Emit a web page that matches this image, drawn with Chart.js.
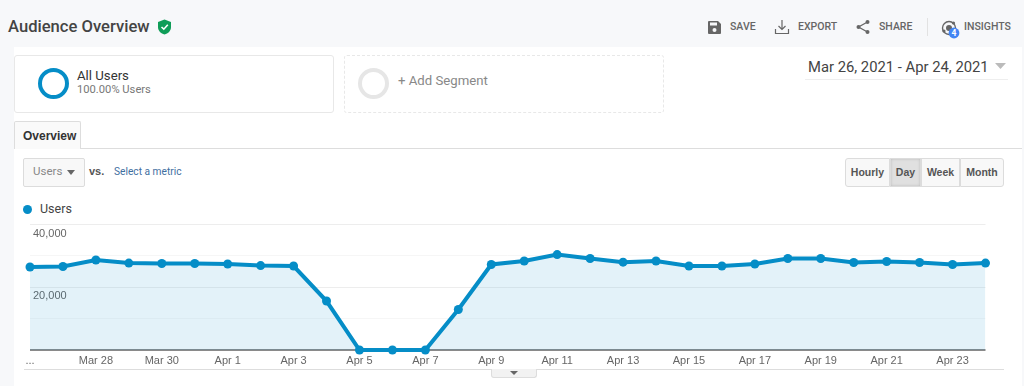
<!DOCTYPE html>
<html>
<head>
<meta charset="utf-8">
<title>Audience Overview</title>
<script src="https://cdn.jsdelivr.net/npm/chart.js@4"></script>
<style>
html, body { margin: 0; padding: 0; }
body { width: 1024px; height: 386px; overflow: hidden; position: relative; background: #f7f8fa; font-family: Roboto, sans-serif; }
#panel { position: absolute; left: 14px; top: 47px; width: 1008px; height: 339px; background: #fff; }
.t { position: absolute; white-space: nowrap; line-height: 1; }
.b { position: absolute; box-sizing: border-box; }
.tool { font-size: 10.5px; font-weight: 500; color: #666; top: 22px; }
svg { position: absolute; overflow: visible; }
.ring { position: absolute; box-sizing: border-box; width: 31px; height: 31px; border-radius: 50%; border: 4.5px solid; top: 68px; }
.btn { position: absolute; top: 158px; height: 29px; box-sizing: border-box; border: 1px solid #dcdcdc; margin-left: -1px; background: #f8f8f8; font: bold 10.5px/27px "Liberation Sans", Arial, sans-serif; color: #555; text-align: center; }
#chart { position: absolute; left: 0; top: 210px; }
</style>
</head>
<body>
<div id="panel"></div>

<div class="t" style="left:8px;top:19px;font-size:16.6px;font-weight:500;color:#444">Audience Overview</div>
<svg style="left:157px;top:19px" width="15" height="16" viewBox="0 0 15 16">
  <path d="M7.5 0.5 L14 3 V8 C14 12 11 14.5 7.5 15.5 C4 14.5 1 12 1 8 V3 Z" fill="#0f9d58"/>
  <path d="M4.5 8 L6.8 10.2 L10.8 5.8" fill="none" stroke="#fff" stroke-width="1.6"/>
</svg>

<svg style="left:708px;top:21px" width="13" height="13" viewBox="0 0 13 13">
  <path d="M0 1 Q0 0 1 0 H10 L13 3 V12 Q13 13 12 13 H1 Q0 13 0 12 Z" fill="#666"/>
  <rect x="2" y="1.5" width="7" height="3" fill="#f7f8fa"/>
  <circle cx="6.5" cy="9" r="2" fill="#f7f8fa"/>
</svg>
<div class="t tool" style="left:730px">SAVE</div>
<svg style="left:775px;top:20px" width="14" height="14" viewBox="0 0 14 14" fill="none" stroke="#666" stroke-width="1.2">
  <path d="M7 0 V9 M3.5 6 L7 9.5 L10.5 6 M0.5 9 V13.5 H13.5 V9"/>
</svg>
<div class="t tool" style="left:798px">EXPORT</div>
<svg style="left:856px;top:20px" width="14" height="14" viewBox="0 0 14 14">
  <path d="M11.5 2 L2.5 7 L11.5 12" fill="none" stroke="#666" stroke-width="1.3"/>
  <circle cx="11.5" cy="2" r="2" fill="#666"/><circle cx="2.5" cy="7" r="2" fill="#666"/><circle cx="11.5" cy="12" r="2" fill="#666"/>
</svg>
<div class="t tool" style="left:879px">SHARE</div>
<div class="b" style="left:927px;top:18px;width:1px;height:18px;background:#e2e2e2"></div>
<svg style="left:941px;top:20px" width="18" height="18" viewBox="0 0 18 18">
  <circle cx="8" cy="8" r="6.5" fill="none" stroke="#666" stroke-width="1.4"/>
  <circle cx="8" cy="8" r="3" fill="#666"/>
  <circle cx="3" cy="11" r="1.6" fill="#666"/><circle cx="12.5" cy="3" r="1.6" fill="#666"/>
  <circle cx="13" cy="13" r="5.4" fill="#4285f4"/>
</svg>
<div class="t" style="left:951.5px;top:29px;font-size:8.5px;font-weight:700;color:#fff">4</div>
<div class="t tool" style="left:964px">INSIGHTS</div>

<div class="b" style="left:14px;top:55px;width:320px;height:58px;border:1px solid #e8e8e8;border-radius:3px"></div>
<div class="ring" style="left:38px;border-color:#058dc7"></div>
<div class="t" style="left:77px;top:69px;font-size:13.2px;color:#333">All Users</div>
<div class="t" style="left:77px;top:84px;font-size:11.2px;color:#777">100.00% Users</div>

<div class="b" style="left:344px;top:55px;width:320px;height:58px;border:1px dashed #e8e8e8;border-radius:3px"></div>
<div class="ring" style="left:358px;border-color:#e6e6e6"></div>
<div class="t" style="left:398px;top:74px;font-size:13.2px;color:#888">+ Add Segment</div>

<div class="t" style="left:808px;top:60px;font-size:14.8px;color:#444">Mar 26, 2021 - Apr 24, 2021</div>
<svg style="left:995px;top:63px" width="11" height="6"><path d="M0 0 H11 L5.5 6 Z" fill="#bbb"/></svg>
<div class="b" style="left:805px;top:79px;width:203px;height:1px;background:#eee"></div>

<div class="b" style="left:14px;top:148px;width:1008px;height:1px;background:#ddd"></div>
<div class="b" style="left:14px;top:121px;width:67px;height:28px;border:1px solid #ddd;border-bottom:0;border-radius:2px 2px 0 0;background:#fafafa"></div>
<div class="t" style="left:23px;top:129px;font:bold 12px 'Liberation Sans',Arial,sans-serif;color:#333">Overview</div>

<div class="b" style="left:23px;top:158px;width:62px;height:29px;border:1px solid #dcdcdc;border-radius:2px;background:#f8f8f8"></div>
<div class="t" style="left:33px;top:166px;font-size:11.5px;color:#888">Users</div>
<svg style="left:67px;top:170px" width="8" height="5"><path d="M0 0 H8 L4 5 Z" fill="#666"/></svg>
<div class="t" style="left:89px;top:165px;font:bold 11px 'Liberation Sans',Arial,sans-serif;color:#555">vs.</div>
<div class="t" style="left:114px;top:167px;font-size:10.2px;color:#3f6f9f">Select a metric</div>

<div class="btn" style="left:846px;width:45px;border-radius:3px 0 0 3px">Hourly</div>
<div class="btn" style="left:891px;width:31px;background:#e0e0e0;box-shadow:inset 0 0 3px #bbb">Day</div>
<div class="btn" style="left:922px;width:39px">Week</div>
<div class="btn" style="left:961px;width:44px;border-radius:0 3px 3px 0">Month</div>

<div class="b" style="left:23px;top:205px;width:9px;height:9px;border-radius:50%;background:#058dc7"></div>
<div class="t" style="left:40px;top:203px;font-size:12.5px;color:#444">Users</div>

<canvas id="chart" width="1024" height="170"></canvas>

<div class="b" style="left:24px;top:369px;width:980px;height:1px;background:#ddd"></div>
<div class="b" style="left:491px;top:369px;width:46px;height:9px;background:#f2f2f2;border:1px solid #ddd;border-top:0;border-radius:0 0 3px 3px"></div>
<svg style="left:510px;top:371px" width="8" height="4"><path d="M0 0 H8 L4 4 Z" fill="#666"/></svg>

<script>
const categories = ['Mar 26', 'Mar 27', 'Mar 28', 'Mar 29', 'Mar 30', 'Mar 31', 'Apr 1', 'Apr 2', 'Apr 3', 'Apr 4',
                    'Apr 5', 'Apr 6', 'Apr 7', 'Apr 8', 'Apr 9', 'Apr 10', 'Apr 11', 'Apr 12', 'Apr 13', 'Apr 14',
                    'Apr 15', 'Apr 16', 'Apr 17', 'Apr 18', 'Apr 19', 'Apr 20', 'Apr 21', 'Apr 22', 'Apr 23', 'Apr 24'];
const xTickLabels = ['...', '', 'Mar 28', '', 'Mar 30', '', 'Apr 1', '', 'Apr 3', '',
                     'Apr 5', '', 'Apr 7', '', 'Apr 9', '', 'Apr 11', '', 'Apr 13', '',
                     'Apr 15', '', 'Apr 17', '', 'Apr 19', '', 'Apr 21', '', 'Apr 23', ''];
const users = [26450, 26600, 28700, 27700, 27570, 27570, 27400, 26900, 26770, 15600,
               0, 0, 0, 12900, 27250, 28360, 30400, 29160, 28000, 28360,
               26770, 26770, 27400, 29160, 29160, 27900, 28200, 27900, 27250, 27700];
const yLabelled = [20000, 40000];

const gridColor = ctx => {
    if (ctx.tick.value === 0) return '#8a8a8a';
    return ctx.tick.value % 20000 === 0 ? 'rgba(0,0,0,0.07)' : 'rgba(0,0,0,0.035)';
};

new Chart(document.getElementById('chart'), {
    type: 'line',
    data: {
        labels: categories,
        datasets: [{
            label: 'Users',
            data: users,
            borderColor: '#058dc7',
            backgroundColor: 'rgba(5,141,199,0.115)',
            borderWidth: 4,
            pointRadius: 4.5,
            pointBackgroundColor: '#058dc7',
            pointBorderWidth: 0,
            tension: 0,
            fill: 'origin',
            clip: false
        }]
    },
    options: {
        responsive: false,
        animation: false,
        layout: { padding: { left: 30, right: 38.5, top: 14.5, bottom: 0 } },
        plugins: { legend: { display: false }, tooltip: { enabled: false } },
        scales: {
            x: {
                offset: false,
                grid: { display: false, drawTicks: false, tickLength: 0 },
                border: { display: false },
                afterFit: scale => { scale.height = 30; },
                ticks: {
                    autoSkip: false,
                    maxRotation: 0,
                    padding: 4,
                    color: '#666',
                    font: { family: '"Liberation Sans", Arial, sans-serif', size: 11 },
                    callback: (value, index) => xTickLabels[index]
                }
            },
            y: {
                min: 0,
                max: 40000,
                border: { display: false },
                afterFit: scale => { scale.width = 0; },
                grid: {
                    drawTicks: false,
                    color: gridColor,
                    lineWidth: ctx => ctx.tick.value === 0 ? 2 : 1
                },
                ticks: {
                    stepSize: 10000,
                    mirror: true,
                    padding: 3,
                    labelOffset: 9,
                    color: '#666',
                    font: { family: '"Liberation Sans", Arial, sans-serif', size: 11 },
                    callback: value => yLabelled.includes(value) ? value.toLocaleString('en-US') : ''
                }
            }
        }
    }
});
</script>
</body>
</html>
